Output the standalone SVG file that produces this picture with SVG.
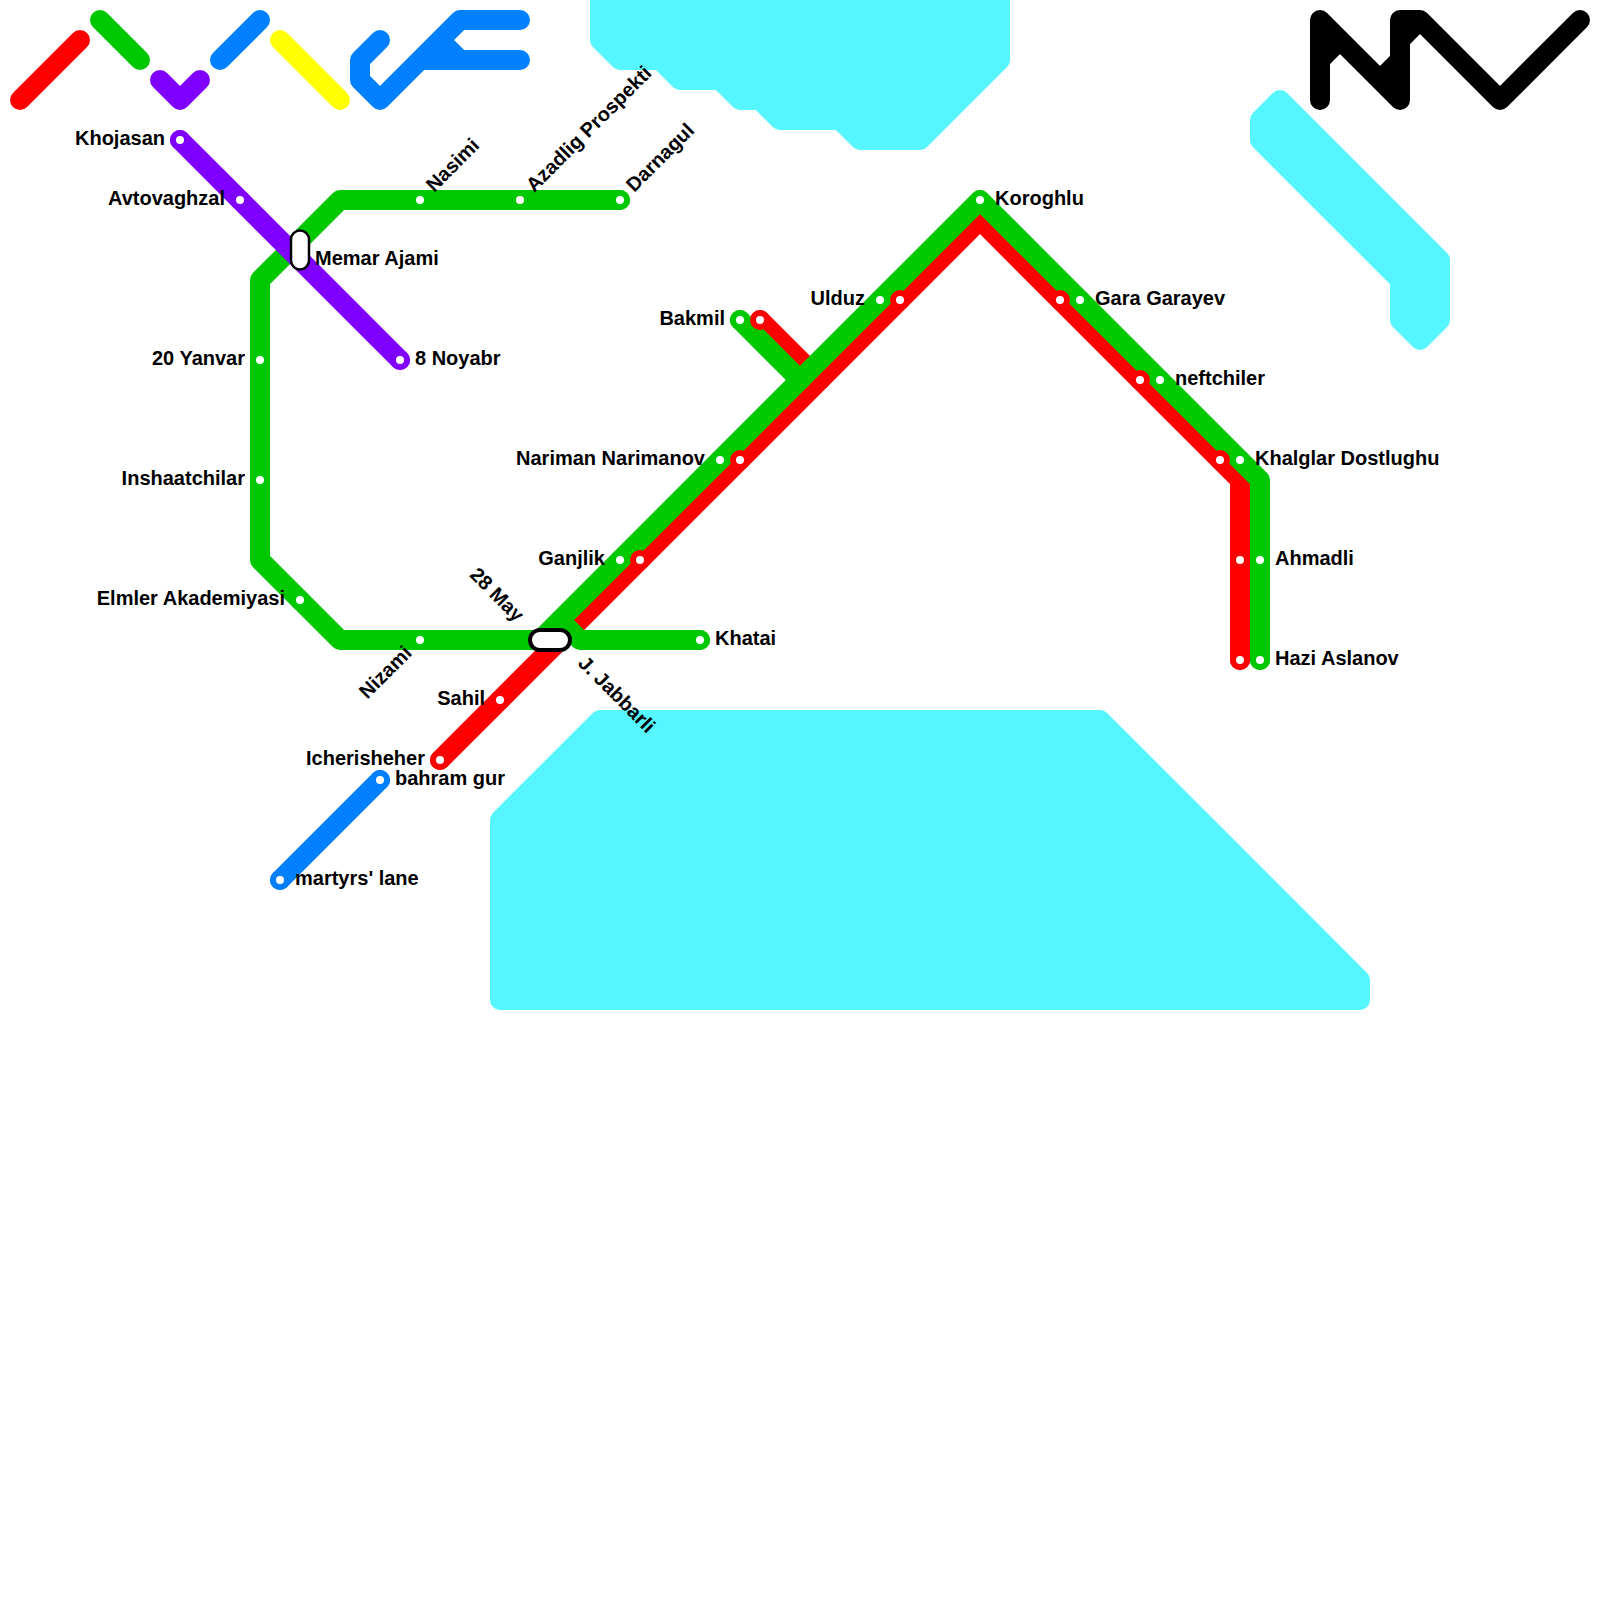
<svg xmlns="http://www.w3.org/2000/svg" width="1600" height="1600" viewBox="0 0 1600 1600">
<style>
.w{fill:#55f6ff;stroke:#55f6ff;stroke-width:20;stroke-linejoin:round}
.l{fill:none;stroke-width:20;stroke-linecap:round;stroke-linejoin:round}
.r{stroke:#ff0000}.g{stroke:#00c800}.p{stroke:#8000ff}.b{stroke:#0080ff}.y{stroke:#ffff00}.k{stroke:#000}
.fr{fill:#ff0000}.fg{fill:#00c800}.fp{fill:#8000ff}.fb{fill:#0080ff}
.d{fill:#fff}
text{font-family:"Liberation Sans",Arial,sans-serif;font-size:20px;font-weight:bold;fill:#000}
.e{text-anchor:end}
.pill{fill:#fff;stroke:#000}
</style>
<rect width="1600" height="1600" fill="#fff"/>
<g id="water">
<path class="w" d="M600 0V40L620 60H660L680 80H720L740 100H760L780 120H840L860 140H920L1000 60V0Z"/>
<path class="w" d="M500 820L600 720H1100L1360 980V1000H500Z"/>
<path class="w" d="M1260 120L1280 100L1440 260V320L1420 340L1400 320V280L1260 140Z"/>
</g>
<g id="connectors">
<path class="l r" d="M20 100L80 40"/>
<path class="l g" d="M100 20L140 60"/>
<path class="l p" d="M160 80L180 100L200 80"/>
<path class="l b" d="M220 60L260 20"/>
<path class="l y" d="M280 40L340 100"/>
<path class="l b" d="M380 40L360 60V80L380 100L460 20H520M420 60H520M440 40L460 60"/>
<path class="l k" d="M1320 100V20L1400 100V20H1420L1500 100L1580 20M1320 60L1340 40M1400 60L1380 80M1400 40L1420 20"/>
<path class="l r" d="M440 760L980 220L1240 480V660"/>
<path class="l r" d="M760 320L820 380"/>
<path class="l g" d="M620 200H340L260 280V560L340 640H540L980 200L1260 480V660"/>
<path class="l g" d="M740 320L800 380"/>
<path class="l g" d="M560 620L580 640H700"/>
<path class="l p" d="M180 140L400 360"/>
<path class="l b" d="M380 780L280 880"/>
</g>
<g id="n-khojasan"><circle cx="180" cy="140" r="10" class="fp"/><circle cx="180" cy="140" r="4" class="d"/><text x="165" y="145" class="e">Khojasan</text></g>
<g id="n-avtovaghzal"><circle cx="240" cy="200" r="10" class="fp"/><circle cx="240" cy="200" r="4" class="d"/><text x="225" y="205" class="e">Avtovaghzal</text></g>
<g id="n-8noyabr"><circle cx="400" cy="360" r="10" class="fp"/><circle cx="400" cy="360" r="4" class="d"/><text x="415" y="365">8 Noyabr</text></g>
<g id="n-memar"><rect class="pill" x="291" y="230.5" width="18" height="39" rx="9" stroke-width="2.5"/><text x="315" y="265">Memar Ajami</text></g>
<g id="n-nasimi"><circle cx="420" cy="200" r="10" class="fg"/><circle cx="420" cy="200" r="4" class="d"/><text transform="translate(420 200) rotate(-45)" x="15" y="5">Nasimi</text></g>
<g id="n-azadlig"><circle cx="520" cy="200" r="10" class="fg"/><circle cx="520" cy="200" r="4" class="d"/><text transform="translate(520 200) rotate(-45)" x="15" y="5">Azadlig Prospekti</text></g>
<g id="n-darnagul"><circle cx="620" cy="200" r="10" class="fg"/><circle cx="620" cy="200" r="4" class="d"/><text transform="translate(620 200) rotate(-45)" x="15" y="5">Darnagul</text></g>
<g id="n-20yanvar"><circle cx="260" cy="360" r="10" class="fg"/><circle cx="260" cy="360" r="4" class="d"/><text x="245" y="365" class="e">20 Yanvar</text></g>
<g id="n-inshaat"><circle cx="260" cy="480" r="10" class="fg"/><circle cx="260" cy="480" r="4" class="d"/><text x="245" y="485" class="e">Inshaatchilar</text></g>
<g id="n-elmler"><circle cx="300" cy="600" r="10" class="fg"/><circle cx="300" cy="600" r="4" class="d"/><text x="285" y="605" class="e">Elmler Akademiyasi</text></g>
<g id="n-nizami"><circle cx="420" cy="640" r="10" class="fg"/><circle cx="420" cy="640" r="4" class="d"/><text transform="translate(420 640) rotate(-45)" x="-15" y="5" class="e">Nizami</text></g>
<g id="n-khatai"><circle cx="700" cy="640" r="10" class="fg"/><circle cx="700" cy="640" r="4" class="d"/><text x="715" y="645">Khatai</text></g>
<g id="n-bakmil-g"><circle cx="740" cy="320" r="10" class="fg"/><circle cx="740" cy="320" r="4" class="d"/><text x="725" y="325" class="e">Bakmil</text></g>
<g id="n-bakmil-r"><circle cx="760" cy="320" r="10" class="fr"/><circle cx="760" cy="320" r="4" class="d"/></g>
<g id="n-koroghlu"><circle cx="980" cy="200" r="10" class="fg"/><circle cx="980" cy="200" r="4" class="d"/><text x="995" y="205">Koroghlu</text></g>
<g id="n-ulduz-g"><circle cx="880" cy="300" r="10" class="fg"/><circle cx="880" cy="300" r="4" class="d"/><text x="865" y="305" class="e">Ulduz</text></g>
<g id="n-ulduz-r"><circle cx="900" cy="300" r="10" class="fr"/><circle cx="900" cy="300" r="4" class="d"/></g>
<g id="n-nariman-g"><circle cx="720" cy="460" r="10" class="fg"/><circle cx="720" cy="460" r="4" class="d"/><text x="705" y="465" class="e">Nariman Narimanov</text></g>
<g id="n-nariman-r"><circle cx="740" cy="460" r="10" class="fr"/><circle cx="740" cy="460" r="4" class="d"/></g>
<g id="n-ganjlik-g"><circle cx="620" cy="560" r="10" class="fg"/><circle cx="620" cy="560" r="4" class="d"/><text x="605" y="565" class="e">Ganjlik</text></g>
<g id="n-ganjlik-r"><circle cx="640" cy="560" r="10" class="fr"/><circle cx="640" cy="560" r="4" class="d"/></g>
<g id="n-gara-g"><circle cx="1080" cy="300" r="10" class="fg"/><circle cx="1080" cy="300" r="4" class="d"/><text x="1095" y="305">Gara Garayev</text></g>
<g id="n-gara-r"><circle cx="1060" cy="300" r="10" class="fr"/><circle cx="1060" cy="300" r="4" class="d"/></g>
<g id="n-neft-g"><circle cx="1160" cy="380" r="10" class="fg"/><circle cx="1160" cy="380" r="4" class="d"/><text x="1175" y="385">neftchiler</text></g>
<g id="n-neft-r"><circle cx="1140" cy="380" r="10" class="fr"/><circle cx="1140" cy="380" r="4" class="d"/></g>
<g id="n-khalglar-g"><circle cx="1240" cy="460" r="10" class="fg"/><circle cx="1240" cy="460" r="4" class="d"/><text x="1255" y="465">Khalglar Dostlughu</text></g>
<g id="n-khalglar-r"><circle cx="1220" cy="460" r="10" class="fr"/><circle cx="1220" cy="460" r="4" class="d"/></g>
<g id="n-ahmadli-r"><circle cx="1240" cy="560" r="10" class="fr"/><circle cx="1240" cy="560" r="4" class="d"/></g>
<g id="n-ahmadli-g"><circle cx="1260" cy="560" r="10" class="fg"/><circle cx="1260" cy="560" r="4" class="d"/><text x="1275" y="565">Ahmadli</text></g>
<g id="n-hazi-r"><circle cx="1240" cy="660" r="10" class="fr"/><circle cx="1240" cy="660" r="4" class="d"/></g>
<g id="n-hazi-g"><circle cx="1260" cy="660" r="10" class="fg"/><circle cx="1260" cy="660" r="4" class="d"/><text x="1275" y="665">Hazi Aslanov</text></g>
<g id="n-sahil"><circle cx="500" cy="700" r="10" class="fr"/><circle cx="500" cy="700" r="4" class="d"/><text x="485" y="705" class="e">Sahil</text></g>
<g id="n-icheri"><circle cx="440" cy="760" r="10" class="fr"/><circle cx="440" cy="760" r="4" class="d"/><text x="425" y="765" class="e">Icherisheher</text></g>
<g id="n-bahram"><circle cx="380" cy="780" r="10" class="fb"/><circle cx="380" cy="780" r="4" class="d"/><text x="395" y="785">bahram gur</text></g>
<g id="n-martyrs"><circle cx="280" cy="880" r="10" class="fb"/><circle cx="280" cy="880" r="4" class="d"/><text x="295" y="885">martyrs' lane</text></g>
<g id="n-28may"><rect class="pill" x="530" y="630" width="40" height="20" rx="10" stroke-width="4"/><text transform="translate(530 630) rotate(45)" x="-15" y="5" class="e">28 May</text><text transform="translate(570 650) rotate(45)" x="15" y="5">J. Jabbarli</text></g>
</svg>
